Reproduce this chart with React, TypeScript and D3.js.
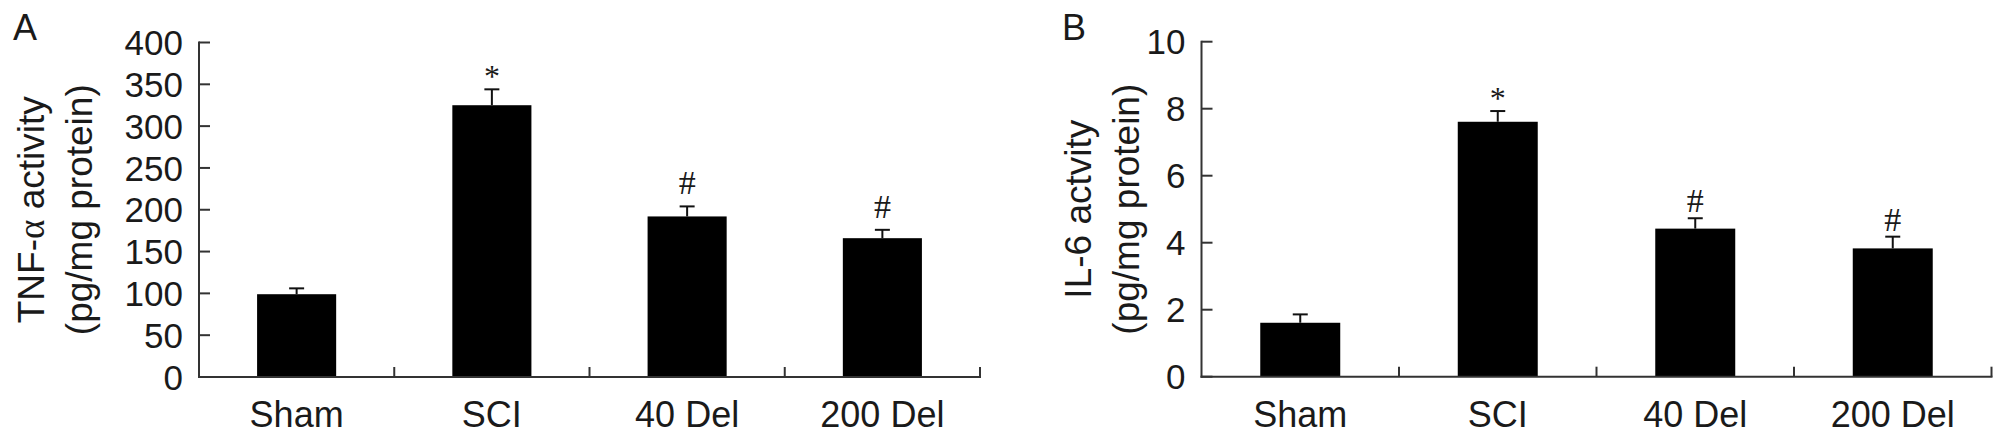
import React from "react";
import * as d3 from "d3";

const categories = ["Sham", "SCI", "40 Del", "200 Del"];
const tnfMean = [99, 325, 192, 166];
const tnfErr = [7, 19, 12, 10];
const il6Mean = [1.61, 7.61, 4.42, 3.83];
const il6Err = [0.25, 0.32, 0.31, 0.35];
const markers = ["", "*", "#", "#"];
const tnfTicks = [0, 50, 100, 150, 200, 250, 300, 350, 400];
const il6Ticks = [0, 2, 4, 6, 8, 10];

const TXT = "#1a1a1a";
const AX = "#333";
const SANS = "'Liberation Sans', Arial, Helvetica, sans-serif";
const SERIF = "'Liberation Serif', 'Times New Roman', serif";

type PanelProps = {
  letter: string;
  letterX: number;
  x0: number;
  x1: number;
  yZero: number;
  yTop: number;
  domainMax: number;
  ticks: number[];
  means: number[];
  errs: number[];
  title1: React.ReactNode;
  title2: string;
  titleX1: number;
  titleX2: number;
  hashGap: number;
};

function Panel(p: PanelProps) {
  const x = d3.scaleBand<string>().domain(categories).range([p.x0, p.x1]).padding(0);
  const y = d3.scaleLinear().domain([0, p.domainMax]).range([p.yZero, p.yTop]);
  const bw = x.bandwidth() * 0.405;
  const midY = (p.yZero + p.yTop) / 2;
  return (
    <g>
      <text x={p.letterX} y={40} fontSize={36} fontFamily={SANS} fill={TXT}>
        {p.letter}
      </text>
      <text
        transform={`translate(${p.titleX1},${midY}) rotate(-90)`}
        textAnchor="middle"
        fontSize={37}
        fontFamily={SANS}
        fill={TXT}
      >
        {p.title1}
      </text>
      <text
        transform={`translate(${p.titleX2},${midY}) rotate(-90)`}
        textAnchor="middle"
        fontSize={37}
        fontFamily={SANS}
        fill={TXT}
      >
        {p.title2}
      </text>
      {categories.map((c, i) => {
        const cx = (x(c) as number) + x.bandwidth() / 2;
        const top = y(p.means[i]);
        const eTop = y(p.means[i] + p.errs[i]);
        const m = markers[i];
        const gap = m === "*" ? 2 : p.hashGap;
        return (
          <g key={c}>
            <rect x={cx - bw / 2} y={top} width={bw} height={p.yZero - top} fill="#000" />
            <line x1={cx} x2={cx} y1={top} y2={eTop} stroke="#111" strokeWidth={2} />
            <line x1={cx - 7.5} x2={cx + 7.5} y1={eTop} y2={eTop} stroke="#111" strokeWidth={2} />
            {m && (
              <text
                x={cx}
                y={eTop - gap}
                textAnchor="middle"
                fontSize={m === "*" ? 32 : 34}
                fontFamily={SERIF}
                fill={TXT}
              >
                {m}
              </text>
            )}
            <text x={cx} y={427} textAnchor="middle" fontSize={36} fontFamily={SANS} fill={TXT}>
              {c}
            </text>
          </g>
        );
      })}
      <line x1={p.x0} x2={p.x0} y1={p.yTop - 1} y2={p.yZero + 1} stroke={AX} strokeWidth={2} />
      {p.ticks.map((t) => (
        <g key={t}>
          <line x1={p.x0} x2={p.x0 + 11} y1={y(t)} y2={y(t)} stroke={AX} strokeWidth={2} />
          <text
            x={p.x0 - 16}
            y={y(t)}
            dy="0.36em"
            textAnchor="end"
            fontSize={35}
            fontFamily={SANS}
            fill={TXT}
          >
            {t}
          </text>
        </g>
      ))}
      <line x1={p.x0 - 1} x2={p.x1 + 1} y1={p.yZero} y2={p.yZero} stroke={AX} strokeWidth={2} />
      {categories.map((c) => {
        const bx = (x(c) as number) + x.bandwidth();
        return <line key={"t" + c} x1={bx} x2={bx} y1={p.yZero} y2={p.yZero - 10} stroke={AX} strokeWidth={2} />;
      })}
    </g>
  );
}

export default function App() {
  return (
    <svg
      width={2008}
      height={442}
      style={{ position: "absolute", left: 0, top: 0, background: "#fff" }}
    >
      <rect x={0} y={0} width={2008} height={442} fill="#fff" />
      <Panel
        letter="A"
        letterX={13}
        x0={199}
        x1={980}
        yZero={377}
        yTop={42.5}
        domainMax={400}
        ticks={tnfTicks}
        means={tnfMean}
        errs={tnfErr}
        title1={
          <>
            TNF-<tspan fontFamily={SERIF}>α</tspan> activity
          </>
        }
        title2="(pg/mg protein)"
        titleX1={44}
        titleX2={92}
        hashGap={12}
      />
      <Panel
        letter="B"
        letterX={1062}
        x0={1201.5}
        x1={1991.5}
        yZero={376.7}
        yTop={41.7}
        domainMax={10}
        ticks={il6Ticks}
        means={il6Mean}
        errs={il6Err}
        title1="IL-6 actvity"
        title2="(pg/mg protein)"
        titleX1={1091}
        titleX2={1139}
        hashGap={6}
      />
    </svg>
  );
}
